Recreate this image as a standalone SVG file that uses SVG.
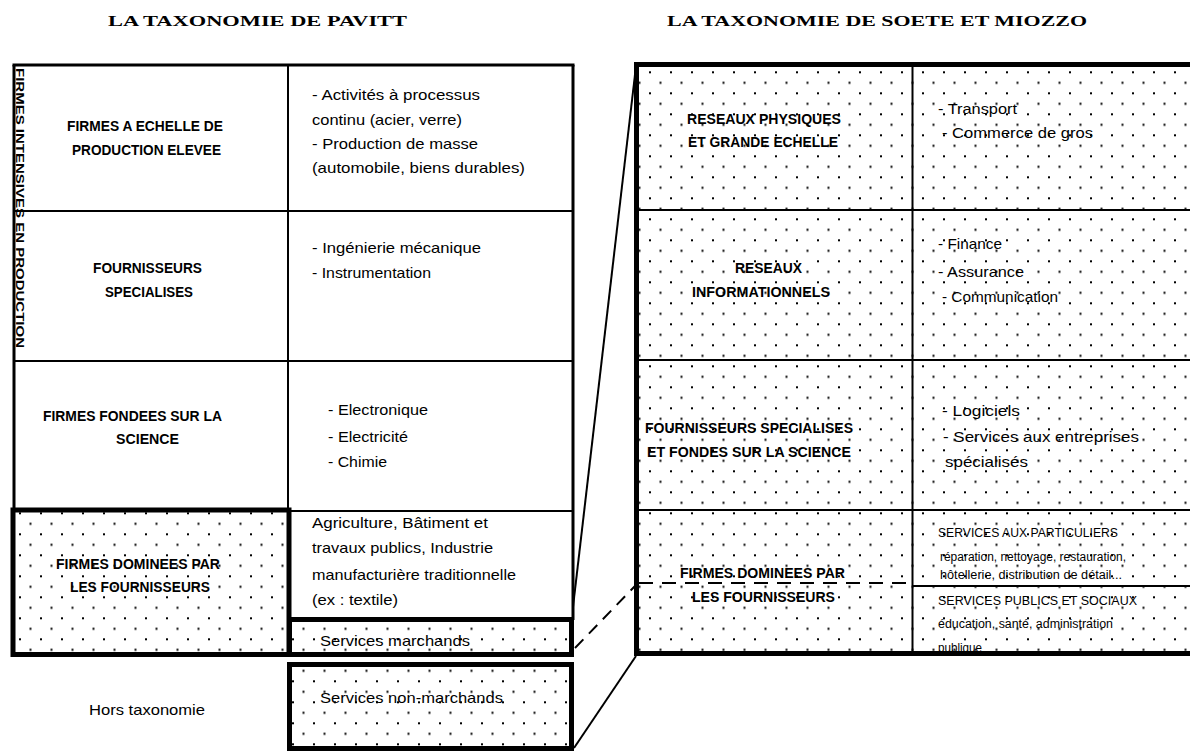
<svg xmlns="http://www.w3.org/2000/svg" width="1190" height="751" viewBox="0 0 1190 751">
<defs>
<pattern id="dots" patternUnits="userSpaceOnUse" x="20" y="9.3" width="21" height="21">
<rect x="-1" y="-1" width="2" height="2" fill="#000"/>
<rect x="9.5" y="9.5" width="2" height="2" fill="#000"/>
<rect x="20" y="-1" width="2" height="2" fill="#000"/>
<rect x="-1" y="20" width="2" height="2" fill="#000"/>
<rect x="20" y="20" width="2" height="2" fill="#000"/>
</pattern>
</defs>
<style>
text{font-family:"Liberation Sans",Arial,sans-serif;fill:#000}
.hd{font-family:"Liberation Serif","Times New Roman",serif;font-weight:bold;font-size:14px}
.b{font-weight:bold;font-size:14px}
.r{font-size:14.5px}
.s{font-size:12px}
.v{font-weight:bold;font-size:11px}
.thin{stroke:#000;stroke-width:2;fill:none}
.mid{stroke:#000;stroke-width:3;fill:none}
.thick{stroke:#000;stroke-width:5;fill:none}
.dotfill{fill:url(#dots)}
</style>
<rect width="1190" height="751" fill="#fff"/>

<g id="headers">
<text class="hd" x="108" y="26" textLength="299" lengthAdjust="spacingAndGlyphs">LA TAXONOMIE DE PAVITT</text>
<text class="hd" x="667" y="26" textLength="420" lengthAdjust="spacingAndGlyphs">LA TAXONOMIE DE SOETE ET MIOZZO</text>
</g>

<g id="pavitt-table">
<line class="mid" x1="12.5" y1="65" x2="574.5" y2="65"/>
<line class="mid" x1="14" y1="65" x2="14" y2="512"/>
<line class="mid" x1="573" y1="65" x2="573" y2="620"/>
<line class="thin" x1="288" y1="65" x2="288" y2="512"/>
<line class="thin" x1="14" y1="211" x2="573" y2="211"/>
<line class="thin" x1="14" y1="361" x2="573" y2="361"/>
<line class="thin" x1="288" y1="511" x2="573" y2="511"/>
<text class="v" transform="translate(15.5,68) rotate(90)" textLength="280" lengthAdjust="spacingAndGlyphs">FIRMES INTENSIVES EN PRODUCTION</text>
</g>

<g id="node-echelle">
<text class="b" x="67" y="131" textLength="156" lengthAdjust="spacingAndGlyphs">FIRMES A ECHELLE DE</text>
<text class="b" x="72" y="155" textLength="149" lengthAdjust="spacingAndGlyphs">PRODUCTION ELEVEE</text>
<text class="r" x="312" y="100" textLength="168" lengthAdjust="spacingAndGlyphs">- Activités à processus</text>
<text class="r" x="312" y="125" textLength="150" lengthAdjust="spacingAndGlyphs">continu (acier, verre)</text>
<text class="r" x="312" y="149" textLength="166" lengthAdjust="spacingAndGlyphs">- Production de masse</text>
<text class="r" x="312" y="173" textLength="213" lengthAdjust="spacingAndGlyphs">(automobile, biens durables)</text>
</g>

<g id="node-fournisseurs-specialises">
<text class="b" x="93" y="273" textLength="109" lengthAdjust="spacingAndGlyphs">FOURNISSEURS</text>
<text class="b" x="105" y="297" textLength="88" lengthAdjust="spacingAndGlyphs">SPECIALISES</text>
<text class="r" x="312" y="253" textLength="169" lengthAdjust="spacingAndGlyphs">- Ingénierie mécanique</text>
<text class="r" x="312" y="278" textLength="119" lengthAdjust="spacingAndGlyphs">- Instrumentation</text>
</g>

<g id="node-science">
<text class="b" x="43" y="421" textLength="179" lengthAdjust="spacingAndGlyphs">FIRMES FONDEES SUR LA</text>
<text class="b" x="116" y="444" textLength="63" lengthAdjust="spacingAndGlyphs">SCIENCE</text>
<text class="r" x="328" y="415" textLength="100" lengthAdjust="spacingAndGlyphs">- Electronique</text>
<text class="r" x="328" y="442" textLength="80" lengthAdjust="spacingAndGlyphs">- Electricité</text>
<text class="r" x="328" y="467" textLength="59" lengthAdjust="spacingAndGlyphs">- Chimie</text>
</g>

<g id="node-dominees">
<rect class="dotfill" x="13" y="510" width="276" height="144"/>
<rect class="thick" x="13" y="510" width="276" height="144.5"/>
<text class="b" x="56" y="569" textLength="164" lengthAdjust="spacingAndGlyphs">FIRMES DOMINEES PAR</text>
<text class="b" x="70" y="592" textLength="140" lengthAdjust="spacingAndGlyphs">LES FOURNISSEURS</text>
<text class="r" x="312" y="528" textLength="176" lengthAdjust="spacingAndGlyphs">Agriculture, Bâtiment et</text>
<text class="r" x="312" y="553" textLength="181" lengthAdjust="spacingAndGlyphs">travaux publics, Industrie</text>
<text class="r" x="312" y="580" textLength="204" lengthAdjust="spacingAndGlyphs">manufacturière traditionnelle</text>
<text class="r" x="312" y="605" textLength="86" lengthAdjust="spacingAndGlyphs">(ex : textile)</text>
</g>

<g id="node-services-marchands">
<rect class="dotfill" x="289.5" y="619.5" width="282" height="35"/>
<rect class="thick" x="289.5" y="619.5" width="282" height="35"/>
<text class="r" x="320" y="646" textLength="150" lengthAdjust="spacingAndGlyphs">Services marchands</text>
</g>

<g id="node-hors-taxonomie">
<text class="r" x="89" y="715" textLength="116" lengthAdjust="spacingAndGlyphs">Hors taxonomie</text>
</g>

<g id="node-services-non-marchands">
<rect class="dotfill" x="289.5" y="664.5" width="282" height="84"/>
<rect class="thick" x="289.5" y="664.5" width="282" height="84"/>
<text class="r" x="320" y="703" textLength="183" lengthAdjust="spacingAndGlyphs">Services non-marchands</text>
</g>

<g id="soete-table">
<rect class="dotfill" x="636" y="64" width="554" height="590"/>
<line class="thin" x1="912.5" y1="64" x2="912.5" y2="654"/>
<line class="thin" x1="636" y1="210" x2="1190" y2="210"/>
<line class="thin" x1="636" y1="360" x2="1190" y2="360"/>
<line class="thin" x1="636" y1="510" x2="1190" y2="510"/>
<line class="thin" x1="639" y1="583" x2="912" y2="583" stroke-dasharray="14,9"/>
<line class="thin" x1="912" y1="586" x2="1190" y2="586"/>
</g>

<g id="node-reseaux-physiques">
<text class="b" x="687" y="124" textLength="154" lengthAdjust="spacingAndGlyphs">RESEAUX PHYSIQUES</text>
<text class="b" x="688" y="147" textLength="150" lengthAdjust="spacingAndGlyphs">ET GRANDE ECHELLE</text>
<text class="r" x="938" y="114" textLength="79" lengthAdjust="spacingAndGlyphs">- Transport</text>
<text class="r" x="942" y="138" textLength="151" lengthAdjust="spacingAndGlyphs">- Commerce de gros</text>
</g>

<g id="node-reseaux-info">
<text class="b" x="735" y="273" textLength="67" lengthAdjust="spacingAndGlyphs">RESEAUX</text>
<text class="b" x="692" y="297" textLength="138" lengthAdjust="spacingAndGlyphs">INFORMATIONNELS</text>
<text class="r" x="938" y="249" textLength="64" lengthAdjust="spacingAndGlyphs">- Finance</text>
<text class="r" x="938" y="277" textLength="86" lengthAdjust="spacingAndGlyphs">- Assurance</text>
<text class="r" x="942" y="302" textLength="116" lengthAdjust="spacingAndGlyphs">- Communication</text>
</g>

<g id="node-fournisseurs-science">
<text class="b" x="645" y="433" textLength="208" lengthAdjust="spacingAndGlyphs">FOURNISSEURS SPECIALISES</text>
<text class="b" x="647" y="457" textLength="204" lengthAdjust="spacingAndGlyphs">ET FONDES SUR LA SCIENCE</text>
<text class="r" x="942" y="416" textLength="78" lengthAdjust="spacingAndGlyphs">- Logiciels</text>
<text class="r" x="943" y="442" textLength="196" lengthAdjust="spacingAndGlyphs">- Services aux entreprises</text>
<text class="r" x="945" y="467" textLength="83" lengthAdjust="spacingAndGlyphs">spécialisés</text>
</g>

<g id="node-dominees-services">
<text class="b" x="680" y="578" textLength="165" lengthAdjust="spacingAndGlyphs">FIRMES DOMINEES PAR</text>
<text class="b" x="692" y="602" textLength="143" lengthAdjust="spacingAndGlyphs">LES FOURNISSEURS</text>
<text class="s" x="938" y="537" textLength="180" lengthAdjust="spacingAndGlyphs">SERVICES AUX PARTICULIERS</text>
<text class="s" x="940" y="561" textLength="186" lengthAdjust="spacingAndGlyphs">réparation, nettoyage, restauration,</text>
<text class="s" x="940" y="579" textLength="182" lengthAdjust="spacingAndGlyphs">hôtellerie, distribution de détail...</text>
<text class="s" x="938" y="605" textLength="199" lengthAdjust="spacingAndGlyphs">SERVICES PUBLICS ET SOCIAUX</text>
<text class="s" x="938" y="628" textLength="175" lengthAdjust="spacingAndGlyphs">éducation, santé, administration</text>
<text class="s" x="938" y="652" textLength="44" lengthAdjust="spacingAndGlyphs">publique</text>
</g>

<g id="soete-border">
<line class="thick" x1="634" y1="64.5" x2="1190" y2="64.5"/>
<line class="thick" x1="636.5" y1="62" x2="636.5" y2="656"/>
<line class="thick" x1="634" y1="653.5" x2="1190" y2="653.5"/>
</g>

<g id="connectors">
<line class="thin" x1="573" y1="607" x2="636" y2="66"/>
<line class="thin" x1="575" y1="648" x2="635" y2="586" stroke-dasharray="12,8"/>
<line class="thin" x1="574" y1="748" x2="636" y2="656"/>
</g>
</svg>
